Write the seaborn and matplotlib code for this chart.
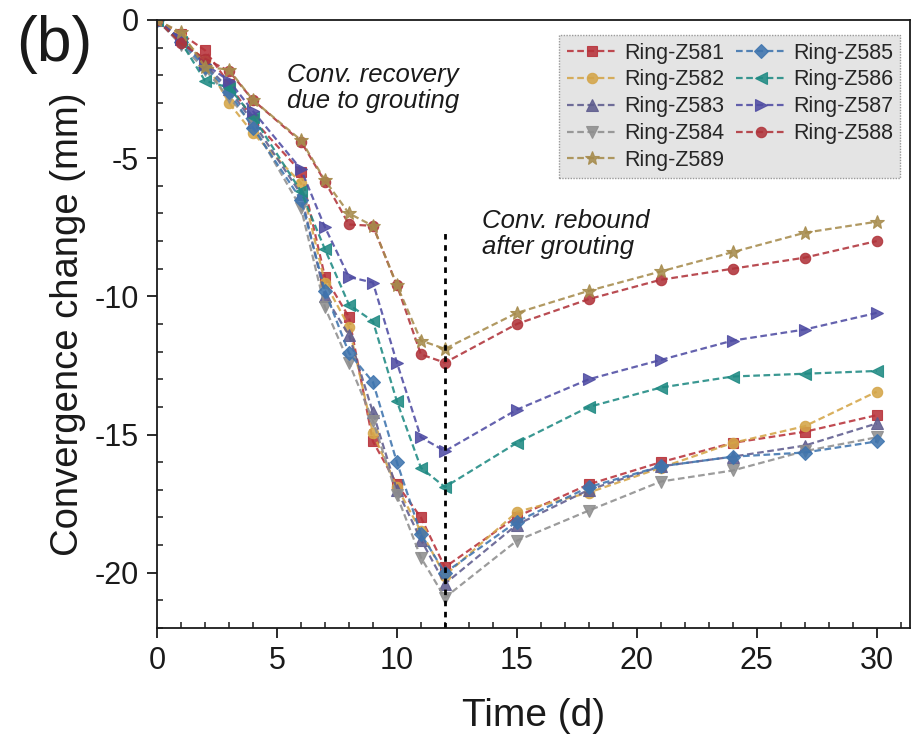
import numpy as np
import pandas as pd
import matplotlib
matplotlib.use("Agg")
import matplotlib.pyplot as plt
import seaborn as sns
from matplotlib.ticker import MultipleLocator

# ---------------- data ----------------
time_d = [0, 1, 2, 3, 4, 6, 7, 8, 9, 10, 11, 12, 15, 18, 21, 24, 27, 30]

ring_names = ["Ring-Z581", "Ring-Z582", "Ring-Z583", "Ring-Z584", "Ring-Z585",
              "Ring-Z586", "Ring-Z587", "Ring-Z588", "Ring-Z589"]

z581 = [0, -0.5, -1.1, -2.3, -3.6, -5.5, -9.3, -10.75, -15.25, -16.8, -18.0, -19.8,
        -17.97, -16.8, -16.0, -15.3, -14.9, -14.3]
z582 = [0, -0.6, -1.5, -3.0, -4.1, -5.9, -9.5, -11.1, -14.95, -16.9, -18.5, -20.1,
        -17.8, -17.1, -16.2, -15.3, -14.7, -13.45]
z583 = [0, -0.7, -1.6, -2.5, -3.7, -6.3, -10.0, -11.4, -14.2, -17.0, -18.8, -20.4,
        -18.26, -17.0, -16.15, -15.8, -15.4, -14.6]
z584 = [0, -0.9, -1.8, -2.8, -3.8, -6.8, -10.4, -12.4, -14.5, -17.2, -19.45, -20.9,
        -18.84, -17.75, -16.7, -16.3, -15.6, -15.1]
z585 = [0, -0.8, -1.7, -2.6, -3.9, -6.5, -9.8, -12.05, -13.1, -16.0, -18.6, -20.0,
        -18.15, -16.9, -16.15, -15.8, -15.65, -15.25]
z586 = [0, -0.8, -2.2, -2.45, -3.5, -6.2, -8.3, -10.3, -10.9, -13.8, -16.2, -16.9,
        -15.3, -14.0, -13.3, -12.9, -12.8, -12.7]
z587 = [0, -0.7, -1.6, -2.2, -3.3, -5.4, -7.5, -9.3, -9.5, -12.4, -15.1, -15.6,
        -14.1, -13.0, -12.3, -11.6, -11.2, -10.6]
z588 = [0, -0.85, -1.4, -1.85, -2.9, -4.4, -5.85, -7.4, -7.45, -9.6, -12.1, -12.4,
        -11.0, -10.1, -9.4, -9.0, -8.6, -8.0]
z589 = [0, -0.45, -1.7, -1.8, -2.9, -4.35, -5.8, -7.0, -7.45, -9.6, -11.6, -11.9,
        -10.6, -9.8, -9.1, -8.4, -7.7, -7.3]

series_values = [z581, z582, z583, z584, z585, z586, z587, z588, z589]

colors = ["#B8323A", "#D4A548", "#5E5C8E", "#8E8E8E", "#3E74AE",
          "#1F8A83", "#4F4CA3", "#B0333A", "#A68B4C"]
markers = ["s", "o", "^", "v", "D", "<", ">", "o", "*"]
msizes = [7.5, 7.5, 8.5, 8.5, 7, 8.5, 8.5, 7.5, 10]

xticks = [0, 5, 10, 15, 20, 25, 30]
yticks = [0, -5, -10, -15, -20]

# ---------------- figure ----------------
sns.set_theme(style="ticks")
plt.rcParams["font.family"] = ["Liberation Sans", "DejaVu Sans"]

fig = plt.figure(figsize=(9.13, 7.38), dpi=100)
ax = fig.add_axes([0.172, 0.149, 0.825, 0.824])

frames = []
for name, vals in zip(ring_names, series_values):
    frames.append(pd.DataFrame({"Time": time_d, "Conv": vals, "Ring": name}))
df = pd.concat(frames, ignore_index=True)

for name, col, mk, ms in zip(ring_names, colors, markers, msizes):
    sub = df[df["Ring"] == name]
    sns.lineplot(data=sub, x="Time", y="Conv", ax=ax, color=col,
                 linestyle=(0, (3, 1.6)), linewidth=1.6,
                 marker=mk, markersize=ms, markerfacecolor=col,
                 markeredgecolor=col, markeredgewidth=0.8,
                 alpha=0.88, label=name, estimator=None, sort=False)

h, l = ax.get_legend_handles_labels()
hd = dict(zip(l, h))
order = ["Ring-Z581", "Ring-Z582", "Ring-Z583", "Ring-Z584", "Ring-Z589",
         "Ring-Z585", "Ring-Z586", "Ring-Z587", "Ring-Z588"]
leg = ax.legend([hd[k] for k in order], order, ncol=2, loc="upper right",
                bbox_to_anchor=(0.987, 0.975), frameon=True, fancybox=False,
                fontsize=15.5, handlelength=2.35, handletextpad=0.3,
                columnspacing=0.55, labelspacing=0.27, borderpad=0.35,
                borderaxespad=0.0)
leg.get_frame().set_facecolor("#E4E4E4")
leg.get_frame().set_edgecolor("#9A9A9A")
leg.get_frame().set_linestyle((0, (1, 1)))
leg.get_frame().set_linewidth(1.0)
leg.get_frame().set_alpha(1.0)

# vertical dotted line at grouting end
ax.vlines(12, -22, -7.63, colors="black", linestyles=(0, (2, 2)), linewidth=2.0)

# annotations
ax.text(5.4, -2.45, "Conv. recovery\ndue to grouting", style="italic",
        fontsize=18.5, ha="left", va="center", color="#1A1A1A", linespacing=1.1)
ax.text(13.55, -7.75, "Conv. rebound\nafter grouting", style="italic",
        fontsize=18.5, ha="left", va="center", color="#1A1A1A", linespacing=1.1)

# axes styling
ax.set_xlim(0, 31.4)
ax.set_ylim(-22, 0)
ax.set_xticks(xticks)
ax.set_yticks(yticks)
ax.set_xticklabels([str(t) for t in xticks])
ax.set_yticklabels([str(t) for t in yticks])
ax.xaxis.set_minor_locator(MultipleLocator(1))
ax.yaxis.set_minor_locator(MultipleLocator(1))
ax.tick_params(which="major", direction="out", length=7, width=1.3,
               labelsize=22, colors="#1A1A1A", pad=6)
ax.tick_params(which="minor", direction="in", length=4, width=1.1,
               colors="#1A1A1A")

for sp in ax.spines.values():
    sp.set_visible(True)
    sp.set_linewidth(1.3)
    sp.set_color("#1A1A1A")

ax.set_xlabel("Time (d)", fontsize=28, color="#1A1A1A", labelpad=16)
ax.set_ylabel("Convergence change (mm)", fontsize=27.5, color="#1A1A1A", labelpad=6)

fig.text(0.018, 0.94, "(b)", fontsize=45, ha="left", va="center", color="#1A1A1A")

fig.savefig("out.png", dpi=100)
